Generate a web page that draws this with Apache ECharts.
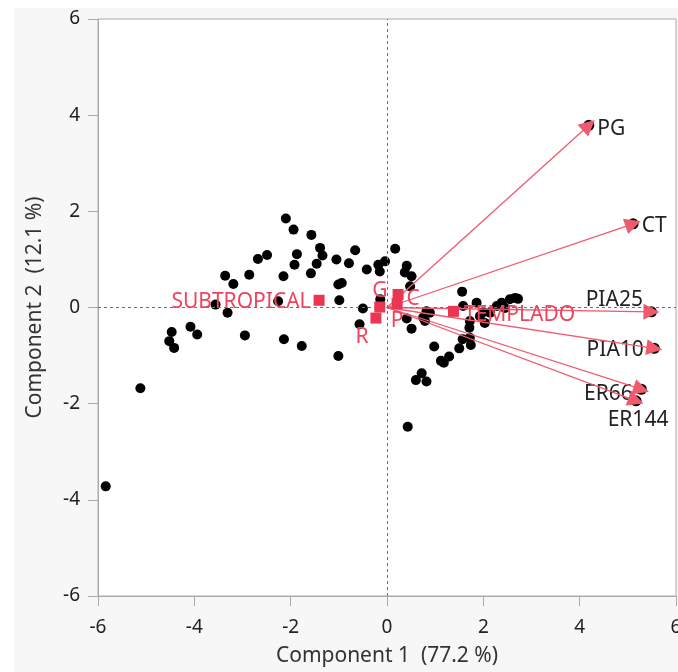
<!DOCTYPE html>
<html>
<head>
<meta charset="utf-8">
<script src="https://cdn.jsdelivr.net/npm/echarts@6/dist/echarts.min.js"></script>
<style>
  html, body { margin: 0; padding: 0; background: #fff; }
  #chart { width: 678px; height: 672px; }
</style>
</head>
<body>
<div id="chart"></div>
<script>
// observation scores (Component 1, Component 2)
const scores = [
  [-5.84, -3.72], [-5.12, -1.68],
  [-4.47, -0.51], [-4.52, -0.70], [-4.42, -0.84], [-4.08, -0.40], [-3.94, -0.56],
  [-3.56, 0.06], [-3.31, -0.11], [-3.36, 0.66], [-3.19, 0.49],
  [-2.95, -0.58], [-2.86, 0.68], [-2.68, 1.01], [-2.49, 1.09],
  [-2.26, 0.13], [-2.14, -0.66], [-2.15, 0.65], [-2.10, 1.85], [-1.94, 1.62],
  [-1.92, 0.89], [-1.87, 1.11], [-1.77, -0.80], [-1.58, 0.71], [-1.57, 1.51],
  [-1.46, 0.91], [-1.39, 1.24], [-1.34, 1.08], [-1.05, 1.00], [-1.01, 0.48],
  [-0.94, 0.51], [-0.99, 0.15], [-1.01, -1.01],
  [-0.79, 0.92], [-0.66, 1.19], [-0.42, 0.79], [-0.18, 0.89], [-0.04, 0.96],
  [-0.15, 0.75], [-0.50, -0.02], [-0.57, -0.35], [-0.14, 0.17],
  [0.17, 1.22], [0.41, 0.87], [0.37, 0.73], [0.51, 0.65], [0.48, 0.44],
  [0.41, -0.23], [0.51, -0.44], [0.82, -0.08], [0.79, -0.28], [0.98, -0.81],
  [0.89, -0.11], [0.75, -0.21],
  [0.43, -2.48], [0.60, -1.51], [0.72, -1.37], [0.82, -1.54],
  [1.12, -1.11], [1.18, -1.15], [1.29, -1.02], [1.50, -0.85], [1.57, -0.66],
  [1.72, -0.63], [1.74, -0.78], [1.71, -0.42], [1.72, -0.28],
  [1.56, 0.33], [1.58, 0.03], [1.86, 0.10], [2.03, -0.32], [2.00, -0.10],
  [1.93, -0.18], [2.14, -0.11], [2.28, 0.03], [2.38, 0.10], [2.45, -0.01],
  [2.55, 0.17], [2.66, 0.20], [2.72, 0.18]
]

// variable loadings (arrow ends)
const varNames = ['PG', 'CT', 'PIA25', 'PIA10', 'ER66', 'ER144']
const varX = [4.19, 5.11, 5.49, 5.55, 5.28, 5.17]
const varY = [3.79, 1.74, -0.09, -0.85, -1.70, -1.94]

// group centroids
const groupNames = ['SUBTROPICAL', 'TEMPLADO', 'G', 'C', 'P', 'R']
const groupX = [-1.41, 1.38, -0.15, 0.23, 0.21, -0.23]
const groupY = [0.15, -0.08, 0.01, 0.27, 0.08, -0.22]

const axisMin = -6
const axisMax = 6
const axisStep = 2

const red = '#ec3550'
const textFont = 'Noto Sans'

const varLabelPos = {
  PG: { position: 'right', distance: 3, offset: [0, 4] },
  CT: { position: 'right', distance: 3, offset: [0, 2] },
  PIA25: { position: 'left', distance: 3, offset: [0, -12] },
  PIA10: { position: 'left', distance: 5, offset: [0, 2] },
  ER66: { position: 'left', distance: 3, offset: [0, 5] },
  ER144: { position: 'bottom', distance: 3, offset: [2, 0] }
}

const groupLabelPos = {
  SUBTROPICAL: { position: 'left', distance: 3, offset: [0, 2] },
  TEMPLADO: { position: 'right', distance: 5, offset: [0, 4] },
  G: { position: 'top', distance: 0, offset: [0, 0] },
  C: { position: 'right', distance: 3, offset: [0, 4] },
  P: { position: 'bottom', distance: 1, offset: [0, 0] },
  R: { position: 'bottom', distance: 1, offset: [-14, 2] }
}

const axisCommon = {
  type: 'value',
  min: axisMin,
  max: axisMax,
  interval: axisStep,
  nameLocation: 'middle',
  nameTextStyle: { fontFamily: textFont, fontSize: 21, color: '#333' },
  axisLine: { show: true, onZero: false, lineStyle: { color: '#aaa' } },
  axisTick: { show: true, length: 10, lineStyle: { color: '#aaa' } },
  axisLabel: { fontFamily: textFont, fontSize: 19, color: '#222' },
  splitLine: { show: false }
}

const chart = echarts.init(document.getElementById('chart'))
chart.setOption({
  backgroundColor: '#fff',
  animation: false,
  graphic: [
    {
      type: 'rect',
      z: -10,
      silent: true,
      shape: { x: 14, y: 8, width: 664, height: 664 },
      style: { fill: '#f7f7f7' }
    }
  ],
  grid: {
    left: 98,
    right: 2,
    top: 19,
    bottom: 76,
    outerBoundsMode: 'none',
    show: true,
    backgroundColor: '#fff',
    borderColor: '#aaa',
    borderWidth: 1
  },
  xAxis: Object.assign({}, axisCommon, {
    name: 'Component 1  (77.2 %)',
    nameGap: 50,
    axisLabel: Object.assign({}, axisCommon.axisLabel, { margin: 22 })
  }),
  yAxis: Object.assign({}, axisCommon, {
    name: 'Component 2  (12.1 %)',
    nameGap: 52,
    axisLabel: Object.assign({}, axisCommon.axisLabel, { margin: 18 })
  }),
  series: [
    {
      type: 'scatter',
      name: 'scores',
      data: scores,
      symbolSize: 10,
      itemStyle: { color: '#000', opacity: 1 },
      z: 2,
      markLine: {
        silent: true,
        symbol: 'none',
        label: { show: false },
        lineStyle: { color: red, type: [3, 3], width: 1, opacity: 1 },
        data: [{ xAxis: 0 }, { yAxis: 0 }]
      }
    },
    {
      type: 'scatter',
      name: 'loadings',
      data: varNames.map((n, i) => ({
        name: n,
        value: [varX[i], varY[i]],
        label: varLabelPos[n]
      })),
      symbolSize: 11,
      itemStyle: { color: '#000', opacity: 1 },
      z: 3,
      label: {
        show: true,
        formatter: '{b}',
        fontFamily: textFont,
        fontSize: 21,
        color: '#222'
      }
    },
    {
      type: 'lines',
      coordinateSystem: 'cartesian2d',
      data: varNames.map((n, i) => ({ coords: [[0, 0], [varX[i], varY[i]]] })),
      symbol: ['none', 'triangle'],
      symbolSize: 16,
      lineStyle: { color: '#f05a6e', width: 1.3, opacity: 1 },
      itemStyle: { color: red },
      z: 4
    },
    {
      type: 'scatter',
      name: 'groups',
      data: groupNames.map((n, i) => ({
        name: n,
        value: [groupX[i], groupY[i]],
        label: groupLabelPos[n]
      })),
      symbol: 'rect',
      symbolSize: 11,
      itemStyle: { color: red, opacity: 1 },
      z: 5,
      label: {
        show: true,
        formatter: '{b}',
        fontFamily: textFont,
        fontSize: 21,
        color: '#f0445e'
      }
    }
  ]
})
</script>
</body>
</html>
